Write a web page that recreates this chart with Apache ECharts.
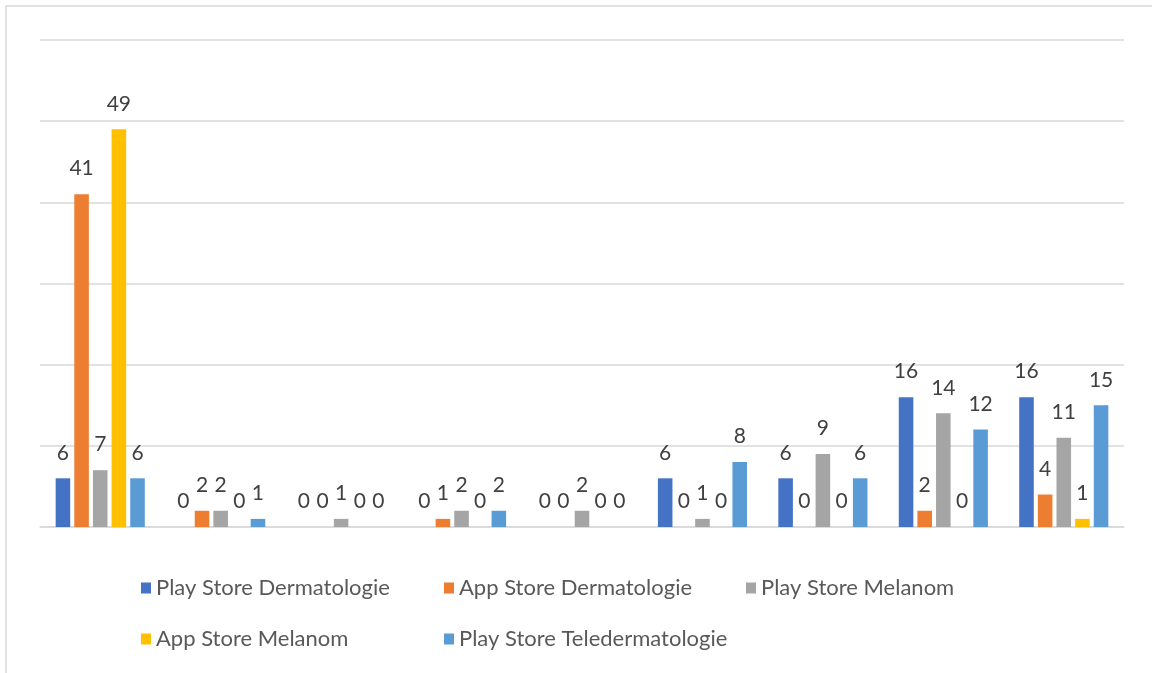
<!DOCTYPE html>
<html>
<head lang="de">
    <meta charset="UTF-8">
    <title>Apps</title>
    <style>
        html, body { margin: 0; padding: 0; background: #fff; }
    </style>
</head>
<body>
<div id="chart" style="width: 1152px;height: 673px;"></div>
<script src="https://cdn.jsdelivr.net/npm/echarts@6/dist/echarts.min.js"></script>
<script>
// Kategorien (im Original ohne Beschriftung)
var categories = ['1', '2', '3', '4', '5', '6', '7', '8', '9'];
var seriesNames = ['Play Store Dermatologie', 'App Store Dermatologie', 'Play Store Melanom',
    'App Store Melanom', 'Play Store Teledermatologie'];
var playDerma = [6, 0, 0, 0, 0, 6, 6, 16, 16];
var appDerma = [41, 2, 0, 1, 0, 0, 0, 2, 4];
var playMelanom = [7, 2, 1, 2, 2, 1, 9, 14, 11];
var appMelanom = [49, 0, 0, 0, 0, 0, 0, 0, 1];
var playTele = [6, 1, 0, 2, 0, 8, 6, 12, 15];
var yTicks = [0, 10, 20, 30, 40, 50, 60];

var colors = ['#4472C4', '#ED7D31', '#A5A5A5', '#FFC000', '#5B9BD5'];
var values = [playDerma, appDerma, playMelanom, appMelanom, playTele];

var myChart = echarts.init(document.getElementById('chart'));

var series = values.map(function (v, i) {
    return {
        name: seriesNames[i],
        type: 'bar',
        data: v,
        barGap: '28%',
        barCategoryGap: '26%',
        itemStyle: { color: colors[i] },
        label: {
            show: true,
            position: 'top',
            distance: 15,
            color: '#404040',
            fontFamily: 'Lato',
            fontSize: 21
        }
    };
});

// Legende wie in Excel: feste Spalten, zwei Zeilen
var legendPos = [[136, 572], [439, 572], [741, 572], [136, 623], [439, 623]];
var legends = seriesNames.map(function (n, i) {
    return {
        data: [n],
        left: legendPos[i][0],
        top: legendPos[i][1],
        icon: 'rect',
        itemWidth: 10,
        itemHeight: 11,
        textStyle: { color: '#595959', fontFamily: 'Lato', fontSize: 22 }
    };
});

var option = {
    backgroundColor: '#fff',
    animation: false,
    color: colors,
    graphic: [{
        type: 'rect',
        shape: { x: 6, y: 6, width: 1160, height: 680 },
        style: { fill: 'none', stroke: '#d9d9d9', lineWidth: 1.5 },
        silent: true
    }],
    grid: { left: 40, right: 28, top: 40, bottom: 146 },
    legend: legends,
    xAxis: {
        type: 'category',
        data: categories,
        axisLine: { lineStyle: { color: '#d9d9d9', width: 1.5 } },
        axisTick: { show: false },
        axisLabel: { show: false }
    },
    yAxis: {
        type: 'value',
        min: yTicks[0],
        max: yTicks[yTicks.length - 1],
        interval: yTicks[1] - yTicks[0],
        axisLabel: { show: false },
        axisLine: { show: false },
        axisTick: { show: false },
        splitLine: { lineStyle: { color: '#d9d9d9', width: 1.5 } }
    },
    series: series
};

myChart.setOption(option);
</script>
</body>
</html>
